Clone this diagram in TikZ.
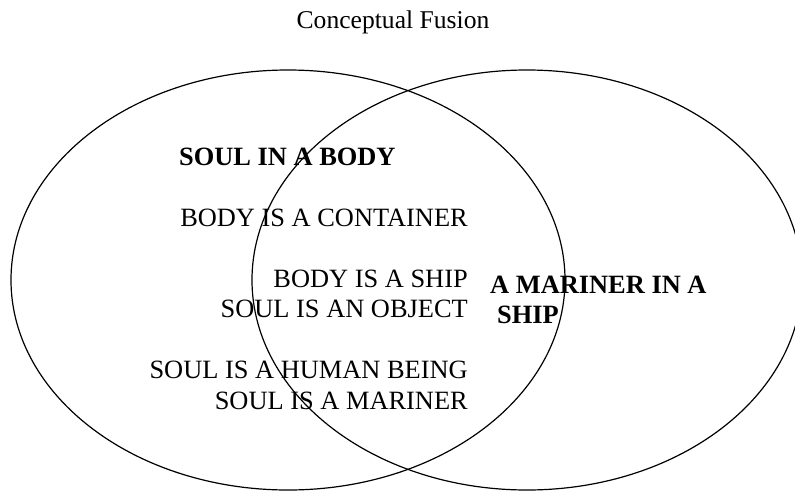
\documentclass[tikz,border=0pt]{standalone}
\usepackage{fontspec}
\setmainfont{Liberation Serif}
\usetikzlibrary{shapes.geometric}
\begin{document}
\begin{tikzpicture}[x=1pt,y=-1pt,
  set/.style={draw=black,line width=1.2pt,ellipse,inner sep=0pt,minimum width=#1},
  txt/.style={inner sep=0pt,anchor=base east,font=\fontsize{26.4}{30}\selectfont},
  hd/.style={inner sep=0pt,anchor=base west,font=\fontsize{26.4}{30}\selectfont\bfseries},
  ttl/.style={inner sep=0pt,anchor=base,font=\fontsize{25.6}{30}\selectfont}]
\useasboundingbox (0,0) rectangle (795,490);
\clip (0,0) rectangle (795,490);
\node[set=554pt,minimum height=420pt] (L) at (288,280) {};
\node[set=550pt,minimum height=420pt] (R) at (527,280) {};
\node[ttl] (title) at (393,28) {Conceptual Fusion};
\node[hd] (soulbody) at (179,165) {SOUL IN A BODY};
\node[txt] (t1) at (468,226) {BODY IS A CONTAINER};
\node[txt] (t2) at (468,287) {BODY IS A SHIP};
\node[txt] (t3) at (468,317) {SOUL IS AN OBJECT};
\node[txt] (t4) at (468,378) {SOUL IS A HUMAN BEING};
\node[txt] (t5) at (468,409) {SOUL IS A MARINER};
\node[hd] (mar1) at (490,293) {A MARINER IN A};
\node[hd] (mar2) at (497,323) {SHIP};
\end{tikzpicture}
\end{document}
